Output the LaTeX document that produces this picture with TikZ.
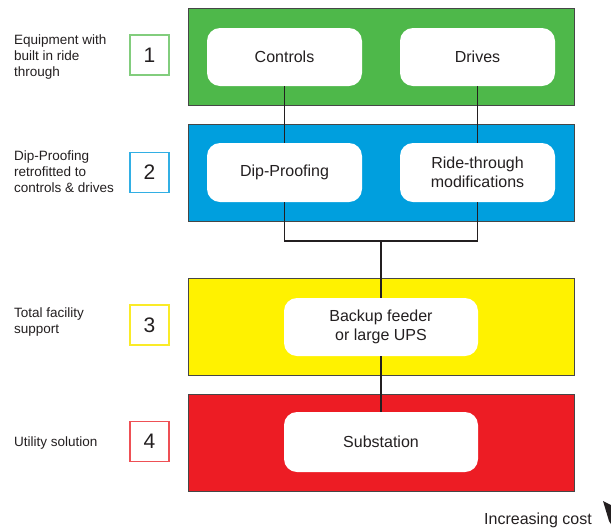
\documentclass[tikz,border=0pt]{standalone}
\usepackage{fontspec}
\setmainfont{Liberation Sans}
\definecolor{pgreen}{RGB}{78,184,74}
\definecolor{pblue}{RGB}{0,159,222}
\definecolor{pyellow}{RGB}{255,242,0}
\definecolor{pred}{RGB}{237,28,36}
\definecolor{lgreen}{RGB}{130,205,125}
\definecolor{lblue}{RGB}{50,175,228}
\definecolor{lyellow}{RGB}{250,235,40}
\definecolor{lred}{RGB}{238,80,85}
\definecolor{txt}{RGB}{35,31,32}
\definecolor{edge}{RGB}{70,70,70}
\tikzset{
  panel/.style={draw=edge, line width=0.8pt, minimum width=386pt, inner sep=0pt},
  inbox/.style={fill=white, rounded corners=13pt, inner sep=0pt, align=center,
    text=txt, font=\fontsize{16}{19}\selectfont},
  numbox/.style={draw=#1, line width=1.2pt, fill=white, minimum width=39pt, minimum height=40pt,
    inner sep=0pt, text=txt, font=\fontsize{21}{24}\selectfont},
  sidetext/.style={anchor=west, align=left, inner sep=0pt, text=txt,
    font=\fontsize{13.5}{16}\selectfont},
  conn/.style={draw=txt, line width=1.1pt},
}
\begin{document}
\begin{tikzpicture}[x=1pt,y=-1pt]
\useasboundingbox (0,0) rectangle (611,531);
% panels
\node[panel, fill=pgreen, minimum height=97pt] (p1) at (381,56.5) {};
\node[panel, fill=pblue, minimum height=97pt] (p2) at (381,172.5) {};
\node[panel, fill=pyellow, minimum height=97pt] (p3) at (381,326.5) {};
\node[panel, fill=pred, minimum height=97pt] (p4) at (381,442.5) {};
\coordinate (join) at (381,241);
% inner boxes
\node[inbox, minimum width=155pt, minimum height=58pt] (controls) at (284.5,57) {Controls};
\node[inbox, minimum width=155pt, minimum height=58pt] (drives) at (477.5,57) {Drives};
\node[inbox, minimum width=155pt, minimum height=59pt] (dip) at (284.5,172.5) {Dip-Proofing};
\node[inbox, minimum width=155pt, minimum height=59pt] (ride) at (477.5,172.5) {Ride-through\\modifications};
\node[inbox, minimum width=194pt, minimum height=58pt] (backup) at (381,327) {Backup feeder\\or large UPS};
\node[inbox, minimum width=194pt, minimum height=60pt] (sub) at (381,442) {Substation};
% connectors
\draw[conn] (controls.south) -- (dip.north);
\draw[conn] (drives.south) -- (ride.north);
\draw[conn, line join=miter] (dip.south) -- (dip.south |- join) -- (ride.south |- join) -- (ride.south);
\draw[conn] (join) -- (backup.north);
\draw[conn] (backup.south) -- (sub.north);
% number boxes
\node[numbox=lgreen] (n1) at (149.5,55) {1};
\node[numbox=lblue] (n2) at (149.5,172.5) {2};
\node[numbox=lyellow] (n3) at (149.5,325) {3};
\node[numbox=lred] (n4) at (149.5,441.5) {4};
% side texts
\node[sidetext] (t1) at (14,57) {Equipment with\\built in ride\\through};
\node[sidetext] (t2) at (14,172) {Dip-Proofing\\retrofitted to\\controls \& drives};
\node[sidetext] (t3) at (14,322) {Total facility\\support};
\node[sidetext] (t4) at (14,443) {Utility solution};
% increasing cost
\node[anchor=base west, inner sep=0pt, text=txt, font=\fontsize{16}{19}\selectfont] (cost) at (484,524) {Increasing cost};
\fill[txt] (603,501) -- (611,505) -- (611,524) -- (609,521) -- cycle;
\end{tikzpicture}
\end{document}
